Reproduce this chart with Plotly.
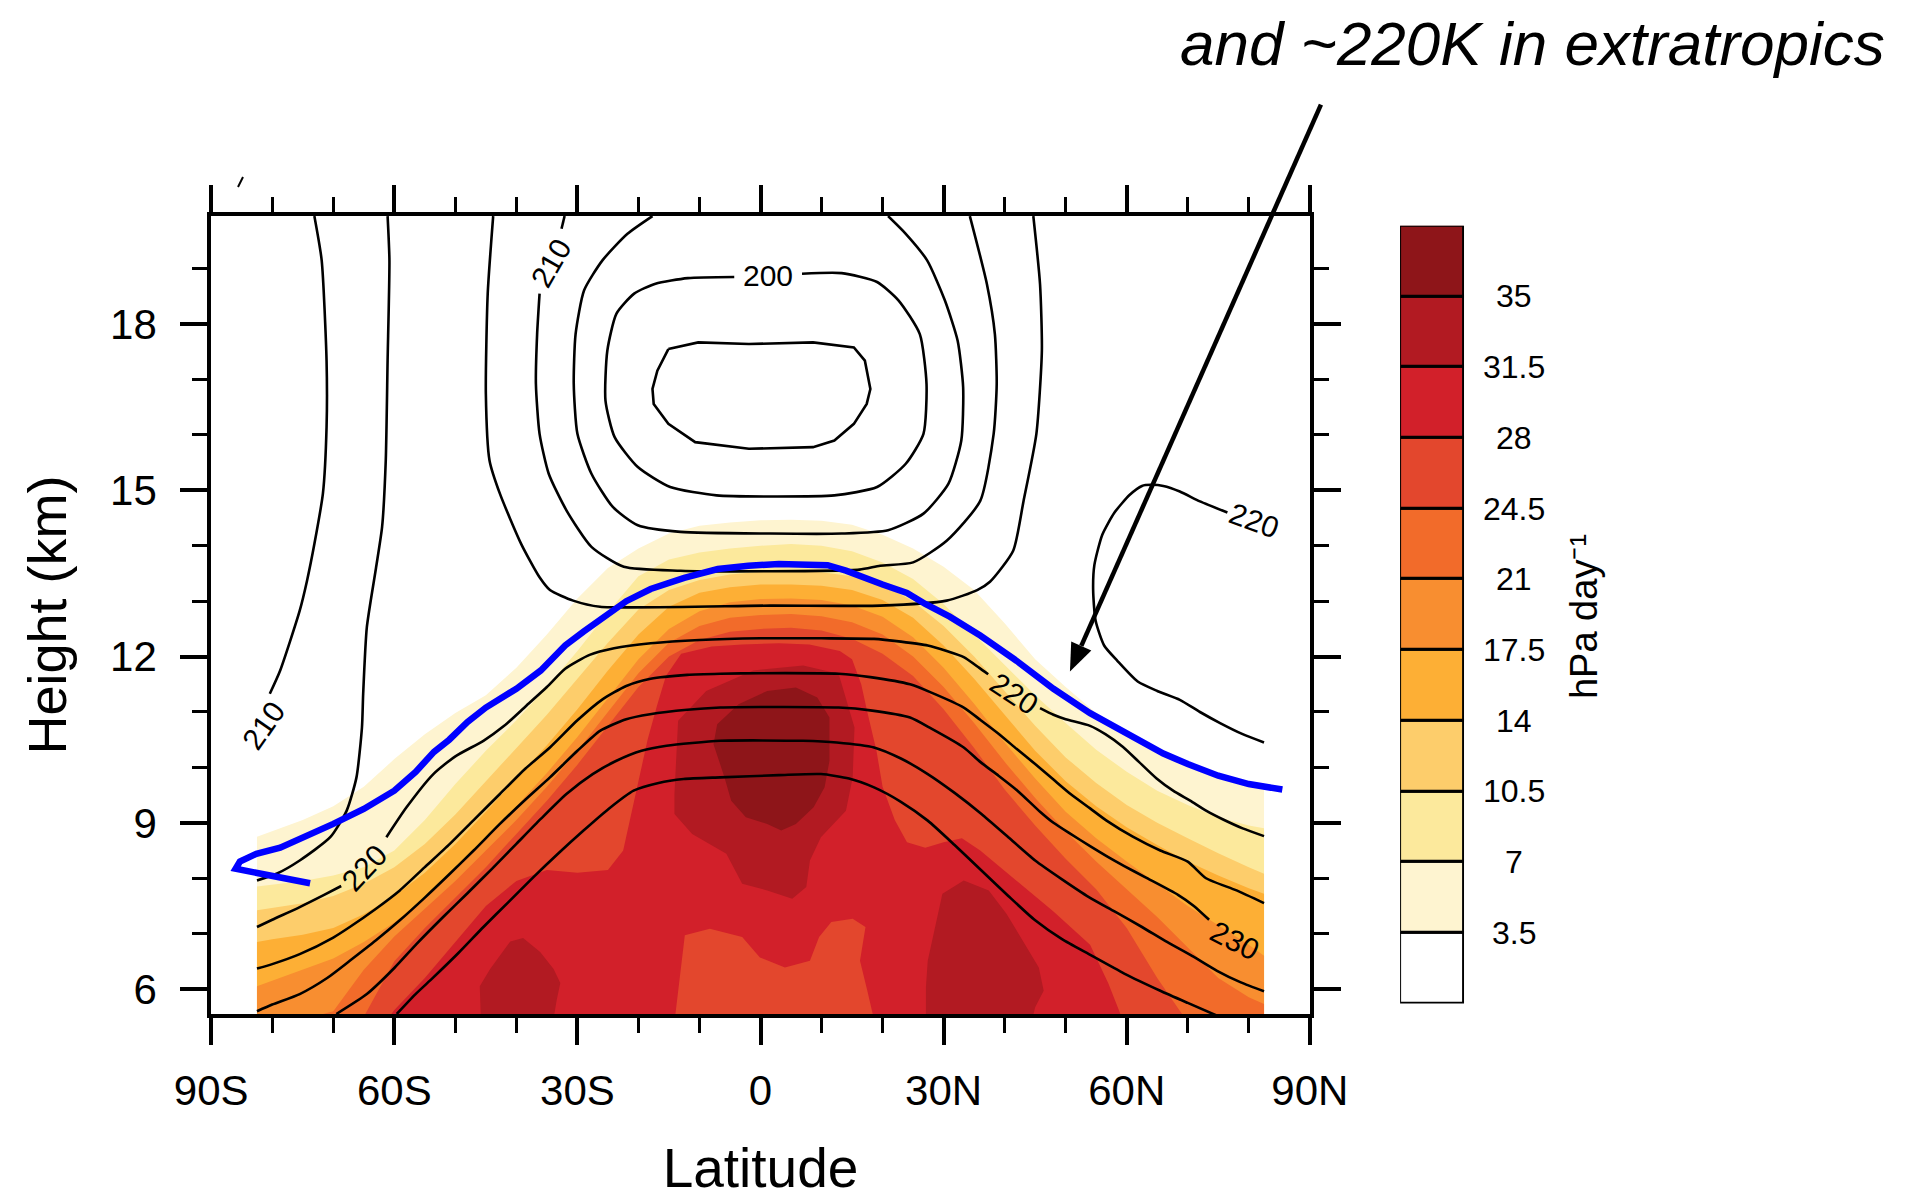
import math
import plotly.graph_objects as go

# ---------------- axis ticks ----------------
LAT_TICKS = [-90, -60, -30, 0, 30, 60, 90]
LAT_LABELS = ["90S", "60S", "30S", "0", "30N", "60N", "90N"]
HGT_TICKS = [6, 9, 12, 15, 18]

# ---------------- shaded field (hPa day-1) ----------------
LEVELS = [3.5, 7, 10.5, 14, 17.5, 21, 24.5, 28, 31.5, 35]
LEVEL_COLORS = ["#ffffff", "#fef4d0", "#fce99c", "#fdcd6b", "#fdaf35", "#f88e30",
                "#f26b2a", "#e3472d", "#d2202a", "#b21a22", "#8e1519"]

LAT_GRID = [-82.5, -80, -75, -70, -65, -60, -55, -50, -45, -40, -35, -30, -25, -20, -15, -10, -5, 0,
            5, 10, 15, 20, 25, 30, 35, 40, 45, 50, 55, 60, 65, 70, 75, 80, 82.5]
TOP_3_5 = [8.75, 8.85, 9.05, 9.3, 9.65, 10.15, 10.6, 10.98, 11.3, 11.8, 12.4, 13.05, 13.6, 13.95, 14.22, 14.36, 14.42, 14.46,
           14.47, 14.45, 14.38, 14.2, 13.95, 13.62, 13.2, 12.6, 11.95, 11.45, 10.98, 10.65, 10.3, 10.1, 9.9, 9.75, 9.62]
TOP_7 = [7.85, 7.88, 7.95, 8.05, 8.2, 8.5, 9.05, 9.7, 10.3, 10.85, 11.45, 12.1, 12.8, 13.45, 13.75, 13.88, 13.95, 14.0,
         14.03, 14.0, 13.9, 13.7, 13.4, 12.95, 12.4, 11.85, 11.3, 10.8, 10.32, 9.92, 9.58, 9.32, 9.1, 8.95, 8.9]
TOP_10_5 = [7.42, 7.46, 7.55, 7.68, 7.9, 8.2, 8.62, 9.15, 9.75, 10.35, 10.95, 11.6, 12.25, 12.85, 13.2, 13.38, 13.48, 13.53,
            13.55, 13.52, 13.45, 13.3, 13.0, 12.55, 12.0, 11.38, 10.75, 10.18, 9.72, 9.32, 9.0, 8.72, 8.45, 8.2, 8.08]
TOP_14 = [6.85, 6.9, 6.98, 7.1, 7.35, 7.68, 8.1, 8.62, 9.2, 9.8, 10.4, 11.05, 11.75, 12.4, 12.9, 13.15, 13.25, 13.3,
          13.3, 13.28, 13.2, 13.02, 12.7, 12.2, 11.6, 10.95, 10.3, 9.75, 9.3, 8.92, 8.6, 8.3, 8.05, 7.82, 7.72]
TOP_17_5 = [6.05, 6.15, 6.35, 6.55, 6.85, 7.2, 7.65, 8.15, 8.72, 9.3, 9.9, 10.55, 11.25, 11.95, 12.5, 12.82, 12.98, 13.04,
            13.05, 13.02, 12.92, 12.72, 12.35, 11.8, 11.15, 10.45, 9.8, 9.2, 8.72, 8.3, 7.9, 7.5, 7.15, 6.8, 6.6]
TOP_21 = [5.2, 5.3, 5.45, 5.6, 6.35, 6.95, 7.45, 7.95, 8.5, 9.05, 9.65, 10.3, 11.0, 11.7, 12.25, 12.55, 12.7, 12.75,
          12.77, 12.73, 12.62, 12.4, 12.0, 11.45, 10.8, 10.1, 9.45, 8.85, 8.3, 7.8, 7.3, 6.75, 6.2, 5.85, 5.73]
TOP_24_5 = [4.8, 4.9, 5.0, 5.2, 5.5, 6.5, 7.1, 7.65, 8.2, 8.8, 9.4, 10.05, 10.75, 11.45, 12.0, 12.3, 12.45, 12.5,
            12.52, 12.47, 12.32, 12.05, 11.65, 11.05, 10.35, 9.6, 8.95, 8.35, 7.8, 7.1, 6.2, 5.4, 5.0, 4.9, 4.8]

LAT_28 = [-61.5, -60, -55, -50, -45, -40, -35, -30, -25, -22.5, -21.5, -20, -18.5, -17, -15.5, -13, -8, -3, 3, 8,
          13, 15, 16.5, 17.5, 19, 20, 22, 24, 27, 30, 33, 36, 42, 48, 54, 57, 59.5]
HGT_28 = [5.4, 5.62, 6.2, 6.85, 7.5, 7.95, 8.15, 8.1, 8.15, 8.5, 9.0, 9.8, 10.5, 11.1, 11.65, 12.05, 12.18, 12.22, 12.24, 12.22,
          12.1, 11.95, 11.5, 11.0, 10.3, 9.65, 9.05, 8.65, 8.55, 8.65, 8.72, 8.5, 7.95, 7.4, 6.8, 6.1, 5.4]

PATCH_LOW_LAT = [-14.1, -12.4, -8.3, -3.0, -0.1, 4.0, 8.1, 9.6, 11.6, 15.1, 17.2, 16.3, 17.5, 18.7]
PATCH_LOW_HGT = [5.4, 6.97, 7.09, 6.94, 6.57, 6.39, 6.51, 6.94, 7.21, 7.27, 7.12, 6.51, 5.97, 5.4]

BLOB31_C_LAT = [-14.1, -13.5, -8.9, -1.2, 7.0, 12.8, 15.4, 15.1, 14.0, 9.9, 8.1, 7.5, 5.2, 1.1, -3.0, -5.6, -11.2, -14.1]
BLOB31_C_HGT = [9.52, 10.84, 11.38, 11.75, 11.84, 11.69, 10.72, 9.82, 9.22, 8.74, 8.32, 7.84, 7.63, 7.78, 7.9, 8.44, 8.8, 9.16]
BLOB31_SW_LAT = [-45.8, -46.0, -44.3, -41.0, -38.9, -36.1, -33.9, -32.8, -33.4, -34.0]
BLOB31_SW_HGT = [5.4, 6.05, 6.36, 6.86, 6.92, 6.67, 6.36, 6.11, 5.8, 5.4]
BLOB31_SE_LAT = [27.1, 27.1, 27.4, 29.8, 33.3, 37.4, 40.3, 42.6, 45.6, 46.4, 45.0, 44.4]
BLOB31_SE_HGT = [5.4, 6.03, 6.51, 7.72, 7.96, 7.78, 7.36, 6.93, 6.39, 5.97, 5.67, 5.4]
BLOB35_LAT = [-7.7, -7.1, -3.6, 1.1, 5.8, 9.3, 11.3, 11.3, 10.5, 8.7, 5.8, 3.4, 1.1, -2.4, -4.8, -5.9, -7.7]
BLOB35_HGT = [10.42, 10.78, 11.14, 11.38, 11.44, 11.26, 10.9, 10.12, 9.64, 9.28, 8.98, 8.86, 8.98, 9.1, 9.4, 9.82, 10.42]

# ---------------- temperature contours (K) ----------------
T195_LAT = [-15.1, -10.2, -1.9, 8.6, 15.3, 17.1, 18.0, 17.4, 15.3, 12.1, 8.6, -1.9, -10.7, -15.1, -17.5, -17.7, -16.9, -15.1]
T195_HGT = [17.55, 17.67, 17.64, 17.67, 17.58, 17.34, 16.83, 16.56, 16.2, 15.9, 15.78, 15.75, 15.87, 16.2, 16.56, 16.83, 17.16, 17.55]
T200_LAT = [6.8, 13.3, 19.1, 22.6, 26.1, 27.2, 26.7, 23.8, 19.1, 12.1, 1.6, -7.2, -14.8, -20.1, -23.9, -25.4, -25.1, -23.6,
            -20.7, -17.2, -11.9, -4.3]
T200_HGT = [18.91, 18.92, 18.76, 18.43, 17.82, 16.92, 16.02, 15.48, 15.06, 14.91, 14.89, 14.91, 15.06, 15.42, 15.96, 16.62,
            17.52, 18.19, 18.55, 18.73, 18.83, 18.85]
T205_LAT = [-17.7, -21.8, -25.9, -28.9, -30.3, -30.6, -30.0, -27.7, -24.2, -20.1, -13.1, 1.6, 13.3, 20.9, 26.7, 30.8, 32.9,
            33.2, 32.3, 30.2, 27.3, 23.8, 20.9]
T205_HGT = [19.95, 19.63, 19.15, 18.61, 17.82, 16.92, 16.02, 15.3, 14.7, 14.37, 14.25, 14.22, 14.22, 14.28, 14.58, 15.12, 15.9,
            16.86, 17.7, 18.43, 19.15, 19.63, 19.95]
T210_LAT = [-32.1, -32.6, None, -36.2, -36.6, -36.8, -36.2, -34.7, -31.8, -27.7, -22.4, -13.1, 1.6, 16.2, 19.6, 25.0, 30.5,
            36.0, 38.2, 38.7, 38.4, 37.1, 34.3]
T210_HGT = [19.95, 19.72, None, 18.55, 17.82, 16.92, 16.02, 15.3, 14.64, 13.98, 13.62, 13.55, 13.54, 13.57, 13.64, 13.7, 14.09,
            14.81, 16.02, 16.92, 17.82, 18.72, 19.95]
T215_LAT = [-43.8, -44.7, -45.0, -44.4, -42.7, -39.2, -36.2, -34.5, -30.7, -26.3, 1.6, 19.6, 30.5, 35.5, 37.6, 41.4, 43.1,
            45.2, 46.1, 45.8, 44.7]
T215_HGT = [19.95, 18.54, 16.74, 15.54, 14.94, 14.03, 13.43, 13.2, 13.01, 12.9, 12.92, 12.92, 13.01, 13.2, 13.35, 13.91, 14.81,
            16.02, 17.52, 18.72, 19.95]
T215S_LAT = [-61.1, -60.8, -61.1, -61.4, -62.0, -63.0, -64.5, -65.1, -65.3, -66.2, -67.8, -70.5, -75.5, -79.3, -82.5]
T215S_HGT = [19.95, 19.15, 17.34, 15.54, 14.34, 13.6, 12.53, 11.33, 10.72, 9.82, 9.22, 8.74, 8.32, 8.08, 7.96]
T210S_LAT = [-73.1, -71.9, -71.1, -71.1, -71.7, -73.1, -74.3, -75.5, -78.7, -80.4]
T210S_HGT = [19.95, 19.15, 17.34, 16.14, 14.94, 14.03, 13.37, 12.83, 11.75, 11.33]
T220N_LAT = [76.5, 72, 68.7, 66, 64, 62.5, 60.5, 58, 56, 54.7, 54.5, 54.9, 56.3, 58.5, 61.8, 65, 68.7, 72, 75.3, 79, 82.5]
T220N_HGT = [14.6, 14.8, 14.98, 15.08, 15.1, 15.08, 14.92, 14.6, 14.2, 13.65, 13.2, 12.65, 12.2, 11.92, 11.55, 11.38, 11.22,
             11.0, 10.8, 10.6, 10.45]
T220_LAT = [-82.5, -80, -75.5, -71.5, -68.7, None, -61.3, -58.0, -53.6, -50, -45.4, -42, -38.5, -35, -32, -28, -24, -18,
            -10, 0, 10, 18.6, 23, 27.4, 30.5, 33.3, 35.8, 37.3, None, 45.8, 48, 50, 54, 56.5, 59.4, 62, 64.9, 67.6, 70.4,
            73, 75.8, 79, 82.5]
T220_HGT = [7.12, 7.25, 7.48, 7.7, 7.86, None, 8.74, 9.28, 9.88, 10.2, 10.48, 10.75, 11.1, 11.45, 11.78, 12.03, 12.15, 12.24,
            12.3, 12.33, 12.33, 12.32, 12.27, 12.2, 12.1, 11.99, 11.8, 11.68, None, 11.07, 10.95, 10.87, 10.75, 10.6, 10.37,
            10.1, 9.8, 9.58, 9.4, 9.22, 9.06, 8.9, 8.76]
T225_LAT = [-82.5, -80, -75.5, -70, -67.3, -63, -59.1, -55, -50.9, -47, -42.7, -38.5, -34.5, -30, -26, -22, -18, -12, -6.6,
            0, 12.8, 18, 24.5, 28, 33.3, 36, 39.1, 42, 45, 48, 50.8, 54, 56.7, 61, 65.5, 70, 73, 78, 82.5]
T225_HGT = [6.37, 6.45, 6.63, 6.93, 7.12, 7.45, 7.78, 8.2, 8.62, 9.05, 9.52, 9.98, 10.36, 10.85, 11.22, 11.47, 11.6, 11.67,
            11.69, 11.7, 11.69, 11.63, 11.5, 11.35, 11.08, 10.86, 10.6, 10.33, 10.06, 9.78, 9.52, 9.26, 9.04, 8.75, 8.5, 8.3,
            8.0, 7.78, 7.55]
T230_LAT = [-82.5, -80, -75.5, -71, -67.3, -63, -59.1, -55, -50.9, -47, -42.7, -38.5, -34.5, -30, -26.3, -22, -18.1, -12,
            -6.6, 0, 12.8, 18, 24.5, 28, 33.3, 36, 39, 42.1, 45.8, 48, 50.8, 54, 56.7, 59.6, 63, 68.4, 71, 73.5]
T230_HGT = [5.6, 5.72, 5.91, 6.2, 6.51, 6.88, 7.24, 7.65, 8.08, 8.5, 8.98, 9.42, 9.82, 10.3, 10.66, 10.87, 10.96, 11.04,
            11.08, 11.09, 11.08, 11.03, 10.9, 10.7, 10.36, 10.1, 9.85, 9.58, 9.2, 9.0, 8.8, 8.58, 8.4, 8.22, 8.02, 7.7, 7.5,
            7.25]
T235_LAT = [-69.5, -64.5, -60, -56.3, -52, -48.1, -44, -40, -36, -31.8, -27.5, -23.6, -19.5, -15.4, -6.6, 6.9, 12.5, 18.6,
            23, 27.4, 31.8, 36.2, 40.6, 45, 49.4, 53.8, 58, 62.5, 66.6, 70.7, 74.8, 78.7, 82.5]
T235_HGT = [5.55, 5.91, 6.38, 6.82, 7.3, 7.72, 8.17, 8.62, 9.07, 9.52, 9.88, 10.12, 10.3, 10.39, 10.48, 10.48, 10.45, 10.36,
            10.16, 9.88, 9.54, 9.16, 8.74, 8.32, 7.98, 7.66, 7.4, 7.12, 6.85, 6.6, 6.33, 6.12, 5.96]
T240_LAT = [-59.6, -56.6, -53.6, -49.5, -45.4, -41.3, -37.2, -33.1, -29.0, -24.9, -20.8, -16.7, -12.6, -6.6, 3, 9.9, 14.5,
            18.6, 23, 27.4, 31.8, 36.2, 40.6, 45, 49.4, 53.8, 59.6, 65.5, 70, 74.8]
T240_HGT = [5.55, 5.9, 6.21, 6.65, 7.12, 7.57, 8.02, 8.45, 8.86, 9.25, 9.58, 9.72, 9.79, 9.82, 9.86, 9.88, 9.8, 9.64, 9.38,
            9.04, 8.6, 8.14, 7.68, 7.24, 6.9, 6.63, 6.28, 5.97, 5.75, 5.52]

# contour labels: (text, lat, height, angle)
T_LABELS = [("200", 1.2, 18.87, 0), ("210", -34.4, 19.1, -60), ("210", -81.4, 10.75, -55),
            ("220", -64.9, 8.2, -47), ("220", 41.5, 11.33, 33), ("220", 80.9, 14.45, 20),
            ("230", 77.7, 6.88, 27)]

# ---------------- tropopause (blue) ----------------
TROP_LAT = [-73.8, -79.3, -86.0, -85.3, -82.6, -78.7, -75.5, -70, -65, -60, -56.5, -53.5, -51, -48, -45, -40, -36, -32,
            -29, -26, -22, -18, -12.5, -7, -2, 3, 8, 11, 14, 17, 20, 24, 27, 31, 36, 42, 48, 54, 60, 66, 70, 75, 80, 85.5]
TROP_HGT = [7.91, 8.02, 8.17, 8.3, 8.44, 8.55, 8.7, 8.98, 9.25, 9.58, 9.92, 10.28, 10.5, 10.82, 11.08, 11.42, 11.75, 12.2,
            12.45, 12.7, 13.0, 13.22, 13.42, 13.58, 13.64, 13.67, 13.67, 13.65, 13.55, 13.42, 13.3, 13.15, 12.95, 12.72,
            12.38, 11.92, 11.42, 10.98, 10.6, 10.25, 10.06, 9.85, 9.7, 9.6]

ARROW_TIP = (50.7, 11.73)       # lat, km
ARROW_TAIL_OFFSET = (251, -567)  # pixels from tip to tail

# ---------------- layout geometry ----------------
FIG_W, FIG_H = 1914, 1199
X_DOMAIN = [0.11035, 0.68433]
Y_DOMAIN = [0.1543, 0.8198]
X_RANGE = [-90, 90]
Y_RANGE = [5.55, 19.95]
FONT = "Liberation Sans, Arial, Helvetica, sans-serif"
BASE = 5.0  # polygons are closed below the visible axis bottom

fig = go.Figure()

band_tops = [TOP_3_5, TOP_7, TOP_10_5, TOP_14, TOP_17_5, TOP_21, TOP_24_5]
for top, col in zip(band_tops, LEVEL_COLORS[1:8]):
    fig.add_trace(go.Scatter(x=LAT_GRID + [LAT_GRID[-1], LAT_GRID[0]], y=top + [BASE, BASE],
                             fill="toself", fillcolor=col, mode="lines", line=dict(width=0, color=col),
                             hoverinfo="skip"))

fig.add_trace(go.Scatter(x=LAT_28 + [LAT_28[-1], LAT_28[0]], y=HGT_28 + [BASE, BASE], fill="toself",
                         fillcolor=LEVEL_COLORS[8], mode="lines", line=dict(width=0, color=LEVEL_COLORS[8]),
                         hoverinfo="skip"))

for lats, hgts, col in [(PATCH_LOW_LAT, PATCH_LOW_HGT, LEVEL_COLORS[7]),
                        (BLOB31_C_LAT, BLOB31_C_HGT, LEVEL_COLORS[9]),
                        (BLOB31_SW_LAT, BLOB31_SW_HGT, LEVEL_COLORS[9]),
                        (BLOB31_SE_LAT, BLOB31_SE_HGT, LEVEL_COLORS[9]),
                        (BLOB35_LAT, BLOB35_HGT, LEVEL_COLORS[10])]:
    fig.add_trace(go.Scatter(x=lats, y=hgts, fill="toself", fillcolor=col, mode="lines",
                             line=dict(width=0, color=col), hoverinfo="skip"))

fig.add_trace(go.Scatter(x=T195_LAT, y=T195_HGT, mode="lines", line=dict(color="black", width=2.6),
                         hoverinfo="skip"))
smooth_contours = [(T200_LAT, T200_HGT), (T205_LAT, T205_HGT), (T210_LAT, T210_HGT),
                   (T215_LAT, T215_HGT), (T215S_LAT, T215S_HGT), (T210S_LAT, T210S_HGT), (T220N_LAT, T220N_HGT),
                   (T220_LAT, T220_HGT), (T225_LAT, T225_HGT), (T230_LAT, T230_HGT), (T235_LAT, T235_HGT),
                   (T240_LAT, T240_HGT)]
for lats, hgts in smooth_contours:
    fig.add_trace(go.Scatter(x=lats, y=hgts, mode="lines", connectgaps=False,
                             line=dict(color="black", width=2.6, shape="spline", smoothing=0.6),
                             hoverinfo="skip"))

fig.add_trace(go.Scatter(x=TROP_LAT, y=TROP_HGT, mode="lines", line=dict(color="#0000ff", width=6.5),
                         hoverinfo="skip"))

# colour bar built as stacked boxes on its own axes
bounds = [0] + LEVELS + [LEVELS[-1] + (LEVELS[1] - LEVELS[0])]
fig.add_trace(go.Bar(x=[0] * len(LEVEL_COLORS), y=[b - a for a, b in zip(bounds[:-1], bounds[1:])],
                     base=bounds[:-1], width=1, marker=dict(color=LEVEL_COLORS, line=dict(color="black", width=3)),
                     xaxis="x2", yaxis="y2", hoverinfo="skip"))

annotations = []
for txt, la, hg, ang in T_LABELS:
    annotations.append(dict(x=la, y=hg, xref="x", yref="y", text=txt, showarrow=False, textangle=ang,
                            font=dict(size=30, family=FONT, color="black")))
for lv in LEVELS:
    annotations.append(dict(x=0.791, y=lv, xref="paper", yref="y2", text=f"{lv:g}", showarrow=False,
                            xanchor="center", yanchor="middle", font=dict(size=32, family=FONT, color="black")))
annotations.append(dict(x=0.840, y=0.486, xref="paper", yref="paper", text="hPa day\u207b\u00b9", showarrow=False,
                        textangle=-90, font=dict(size=38, family=FONT, color="black")))
annotations.append(dict(x=0.986, y=0.964, xref="paper", yref="paper", text="and ~220K in extratropics",
                        showarrow=False, xanchor="right", yanchor="middle",
                        font=dict(size=62, family=FONT, color="black", style="italic")))

# arrow pointing at the extratropical tropopause (tip located through the axis mapping)
tip_px = (FIG_W * (X_DOMAIN[0] + (ARROW_TIP[0] - X_RANGE[0]) / (X_RANGE[1] - X_RANGE[0]) * (X_DOMAIN[1] - X_DOMAIN[0])),
          FIG_H * (1 - (Y_DOMAIN[0] + (ARROW_TIP[1] - Y_RANGE[0]) / (Y_RANGE[1] - Y_RANGE[0]) * (Y_DOMAIN[1] - Y_DOMAIN[0]))))
tail_px = (tip_px[0] + ARROW_TAIL_OFFSET[0], tip_px[1] + ARROW_TAIL_OFFSET[1])
dx, dy = tip_px[0] - tail_px[0], tip_px[1] - tail_px[1]
norm = math.hypot(dx, dy)
ux, uy = dx / norm, dy / norm
head_len, head_half = 28, 11
base_c = (tip_px[0] - head_len * ux, tip_px[1] - head_len * uy)
p1 = (base_c[0] + head_half * uy, base_c[1] - head_half * ux)
p2 = (base_c[0] - head_half * uy, base_c[1] + head_half * ux)


def to_paper(p):
    return p[0] / FIG_W, 1 - p[1] / FIG_H


t0, b0, q0, q1, q2 = to_paper(tail_px), to_paper(base_c), to_paper(tip_px), to_paper(p1), to_paper(p2)
# small stray stroke above the top-left corner of the frame
s0, s1 = to_paper((238, 187)), to_paper((243, 177))
shapes = [
    dict(type="line", xref="paper", yref="paper", x0=t0[0], y0=t0[1], x1=b0[0], y1=b0[1],
         line=dict(color="black", width=4.5)),
    dict(type="path", xref="paper", yref="paper", fillcolor="black", line=dict(width=0),
         path=f"M {q0[0]},{q0[1]} L {q1[0]},{q1[1]} L {q2[0]},{q2[1]} Z"),
    dict(type="line", xref="paper", yref="paper", x0=s0[0], y0=s0[1], x1=s1[0], y1=s1[1],
         line=dict(color="black", width=2)),
]

axis_common = dict(ticks="outside", tickwidth=4, tickcolor="black", showline=True, linewidth=4, linecolor="black",
                   mirror="allticks", showgrid=False, zeroline=False, automargin=False,
                   tickfont=dict(size=42, family=FONT, color="black"))

fig.update_layout(
    width=FIG_W, height=FIG_H, margin=dict(l=0, r=0, t=0, b=0),
    paper_bgcolor="white", plot_bgcolor="white", showlegend=False,
    font=dict(family=FONT, color="black"),
    xaxis=dict(domain=X_DOMAIN, range=X_RANGE, tickvals=LAT_TICKS, ticktext=LAT_LABELS, ticklen=27,
               ticklabelstandoff=10,
               minor=dict(dtick=10, tick0=0, ticks="outside", ticklen=15, tickwidth=3, tickcolor="black"),
               title=dict(text="Latitude", font=dict(size=55, family=FONT, color="black"), standoff=36),
               anchor="y", **axis_common),
    yaxis=dict(domain=Y_DOMAIN, range=Y_RANGE, tickvals=HGT_TICKS, ticklen=27, ticklabelstandoff=15,
               minor=dict(dtick=1, tick0=0, ticks="outside", ticklen=15, tickwidth=3, tickcolor="black"),
               title=dict(text="Height (km)", font=dict(size=54, family=FONT, color="black"), standoff=27),
               anchor="x", **axis_common),
    xaxis2=dict(domain=[0.7315, 0.7649], range=[-0.5, 0.5], visible=False, anchor="y2"),
    yaxis2=dict(domain=[0.16313, 0.81168], range=[0, bounds[-1]], visible=False, anchor="x2"),
    annotations=annotations,
    shapes=shapes,
    bargap=0,
)

fig.write_html("out.html")
